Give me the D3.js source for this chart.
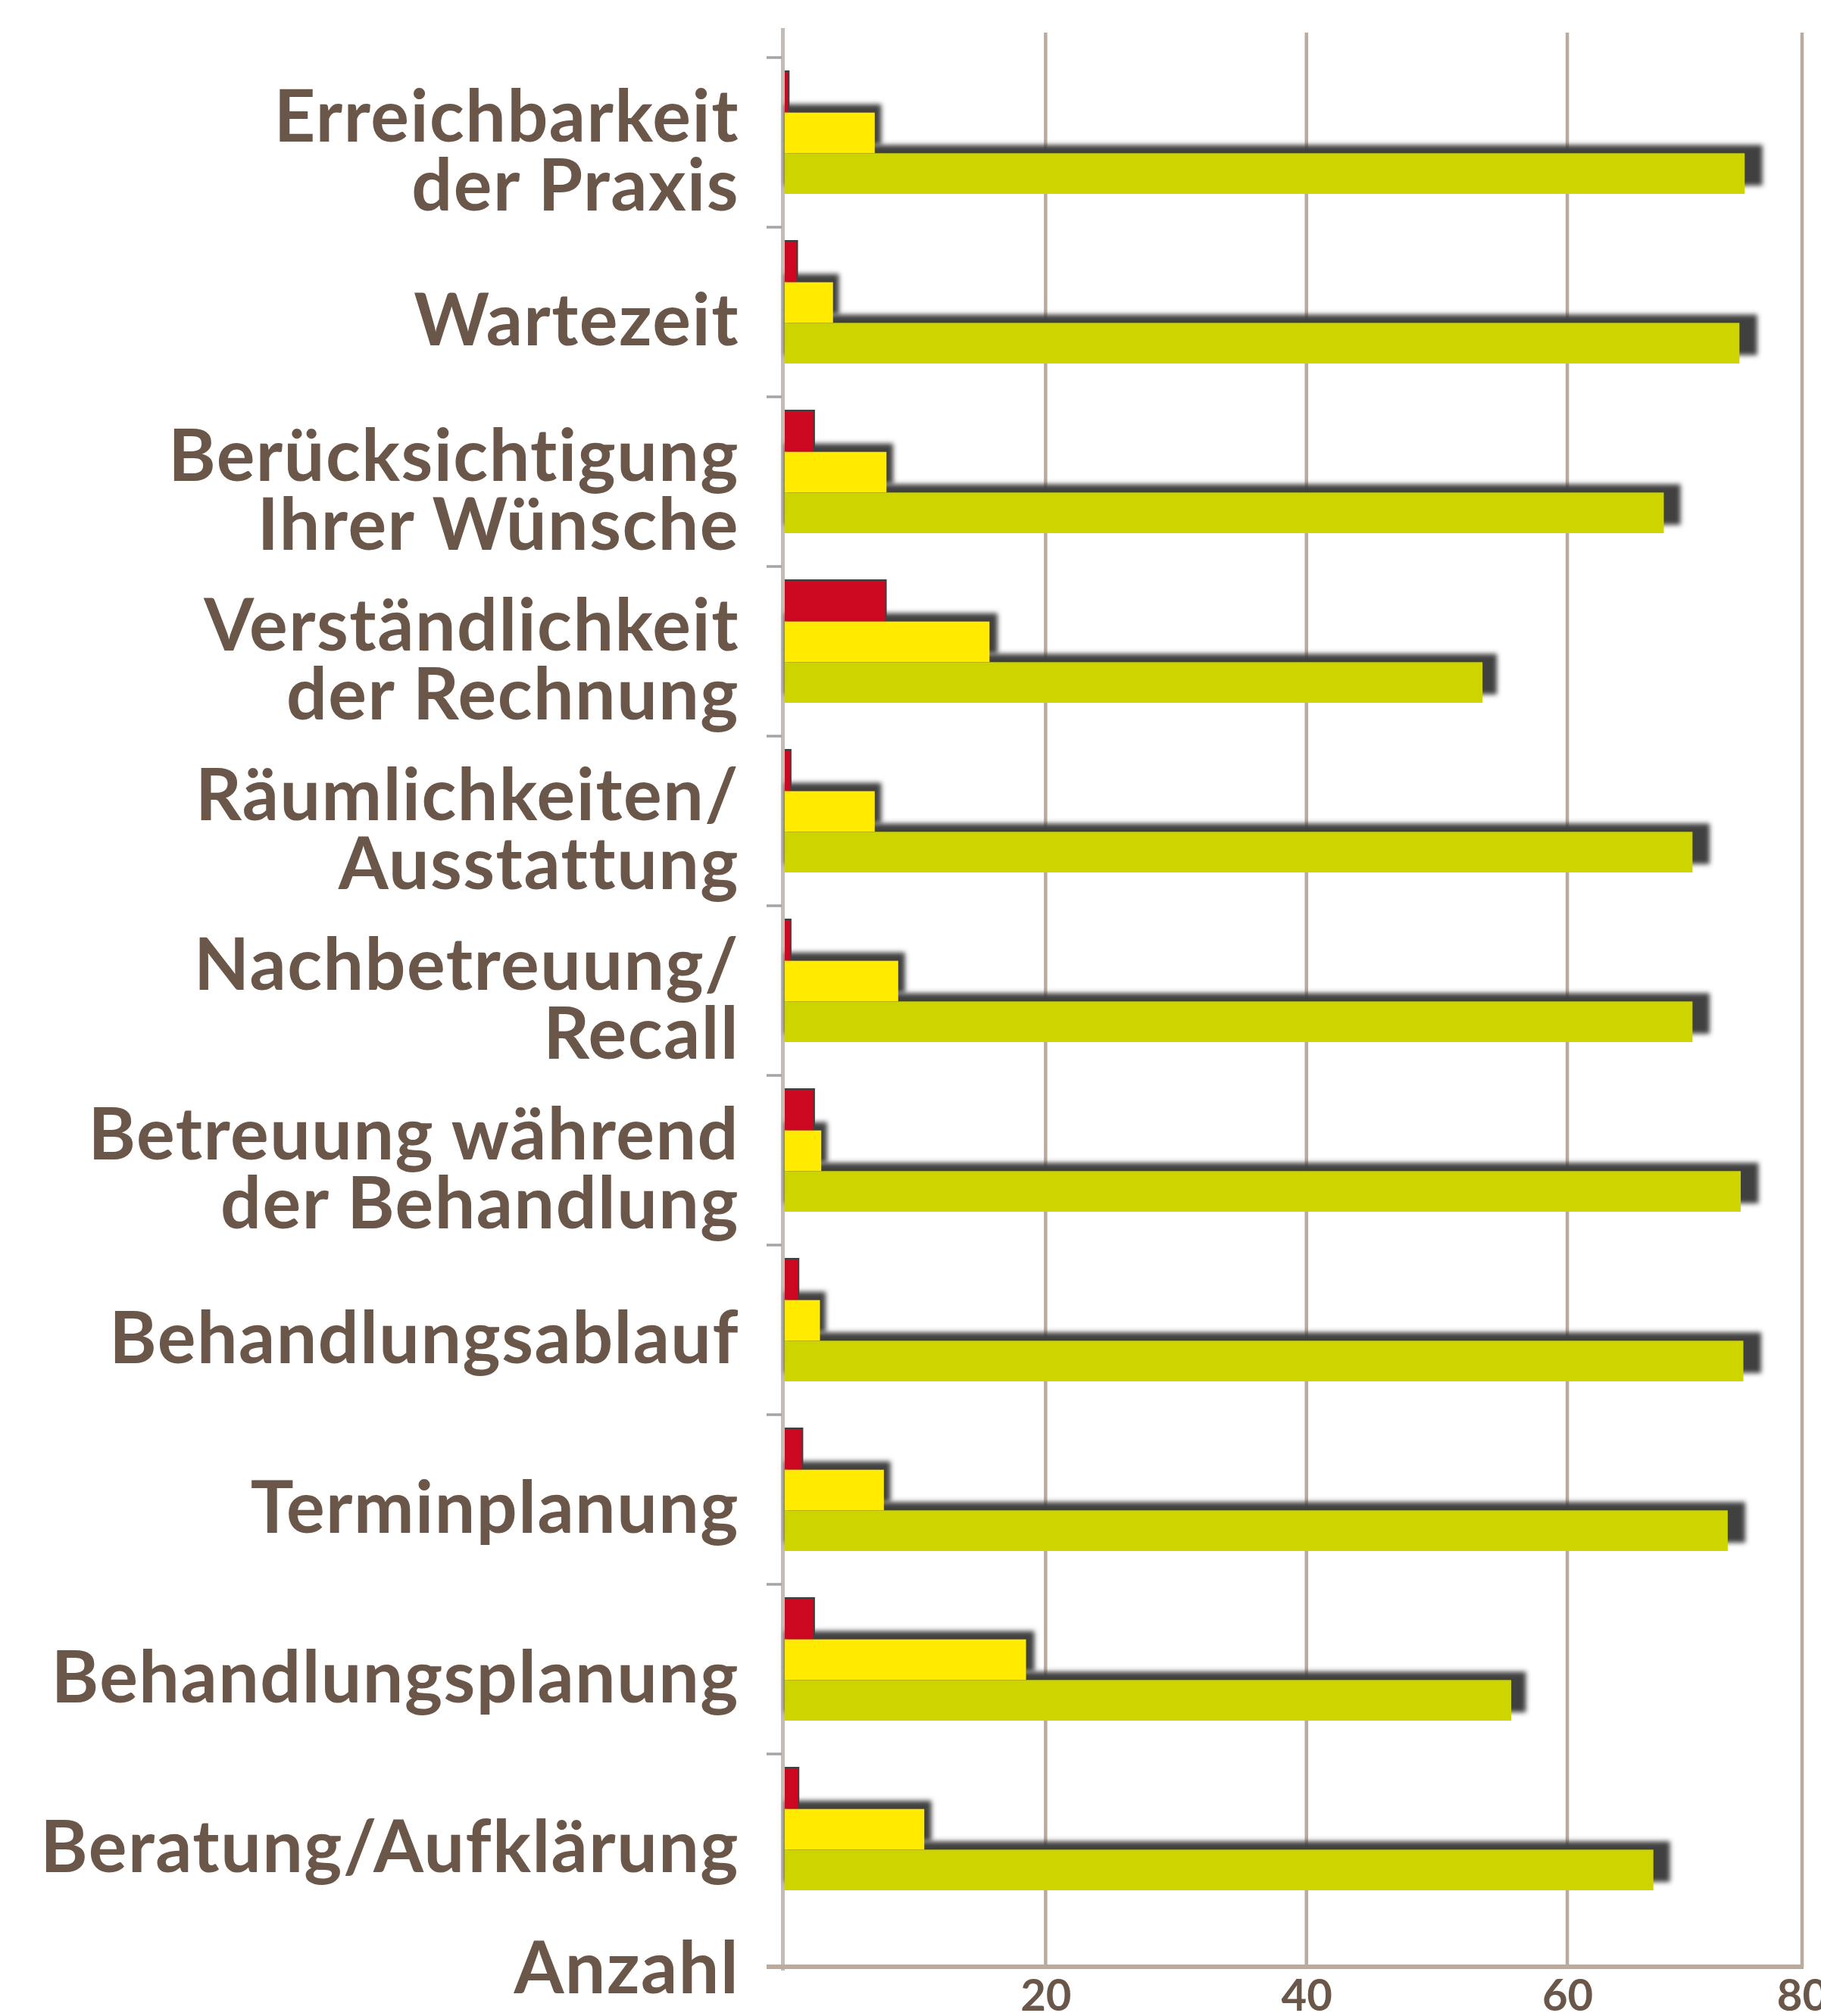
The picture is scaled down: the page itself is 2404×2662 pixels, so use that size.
<!DOCTYPE html>
<html>
<head>
<meta charset="utf-8">
<script src="https://cdn.jsdelivr.net/npm/d3@7"></script>
<style>
  body { margin: 0; background: #fff; }
  .label { font-family: Lato, "Noto Sans", sans-serif; font-weight: bold; fill: #6b5749; }
</style>
</head>
<body>
<svg width="2404" height="2662"></svg>
<script>
// categories, top to bottom ("\n" = line break)
const categories = [
  "Erreichbarkeit\nder Praxis",
  "Wartezeit",
  "Berücksichtigung\nIhrer Wünsche",
  "Verständlichkeit\nder Rechnung",
  "Räumlichkeiten/\nAusstattung",
  "Nachbetreuung/\nRecall",
  "Betreuung während\nder Behandlung",
  "Behandlungsablauf",
  "Terminplanung",
  "Behandlungsplanung",
  "Beratung/Aufklärung"
];

// three series per category (red, yellow, green)
const series = ["rot", "gelb", "gruen"];
const redValues    = [0.25, 0.9, 2.2, 7.7, 0.4, 0.4, 2.2, 1.0, 1.3, 2.2, 1.0];
const yellowValues = [6.9, 3.7, 7.8, 15.7, 6.9, 8.7, 2.8, 2.7, 7.6, 18.5, 10.7];
const greenValues  = [73.6, 73.2, 67.4, 53.5, 69.6, 69.6, 73.3, 73.5, 72.3, 55.7, 66.6];

const tickValues = [20, 40, 60, 80];
const axisTitle = "Anzahl";

var colors = { rot: "#cc0820", gelb: "#ffea00", gruen: "#cdd400" };
var textColor = "#6b5749";
var gridColor = "#b9ab9f";

var draw = function(){
  const svg = d3.select('svg');

  const rows = categories.map((c, i) => ({
    lines: c.split("\n"),
    rot: redValues[i],
    gelb: yellowValues[i],
    gruen: greenValues[i]
  }));

  // scales
  const x = d3.scaleLinear()
    .domain([0, 78])
    .range([1036, 2379])
    .clamp(true);

  const y0 = d3.scaleBand()
    .domain(d3.range(categories.length))
    .range([76, 2540]);

  const y1 = d3.scaleBand()
    .domain(series)
    .range([19, 180]);

  // shadow blur
  svg.append('defs')
    .append('filter')
    .attr('id', 'blur')
    .attr('filterUnits', 'userSpaceOnUse')
    .attr('x', 0).attr('y', 0).attr('width', 2404).attr('height', 2662)
    .append('feGaussianBlur')
    .attr('stdDeviation', 3);

  // grid lines
  svg.append('g')
    .selectAll('line')
    .data(tickValues)
    .enter()
    .append('line')
    .attr('x1', d => x(d))
    .attr('x2', d => x(d))
    .attr('y1', 43)
    .attr('y2', 2597)
    .attr('stroke', gridColor)
    .attr('stroke-width', 4.5);

  // left axis with category ticks
  svg.append('line')
    .attr('x1', x(0) - 2.5)
    .attr('x2', x(0) - 2.5)
    .attr('y1', 37)
    .attr('y2', 2602)
    .attr('stroke', '#c4bcb4')
    .attr('stroke-width', 5);

  svg.append('g')
    .selectAll('line')
    .data(d3.range(categories.length))
    .enter()
    .append('line')
    .attr('x1', x(0) - 24)
    .attr('x2', x(0) - 4)
    .attr('y1', d => y0(d))
    .attr('y2', d => y0(d))
    .attr('stroke', '#a4a4a4')
    .attr('stroke-width', 3.5);

  // bars
  const groups = svg.append('g')
    .selectAll('g')
    .data(rows)
    .enter()
    .append('g')
    .attr('transform', (d, i) => `translate(0, ${y0(i)})`);

  // shadows first so every bar covers the shadow of the bar below
  groups.selectAll('.shadow')
    .data(d => series.map(s => ({ key: s, value: d[s] })))
    .enter()
    .append('rect')
    .attr('class', 'shadow')
    .attr('x', x(0))
    .attr('y', d => y1(d.key) - (d.key == 'rot' ? 2 : 11))
    .attr('width', d => {
      const w = x(d.value) - x(0);
      return d.key == 'rot' ? w + 2 : w * 1.013 + 7;
    })
    .attr('height', y1.bandwidth())
    .attr('fill', '#404040')
    .attr('filter', d => d.key == 'rot' ? null : 'url(#blur)');

  groups.selectAll('.bar')
    .data(d => series.map(s => ({ key: s, value: d[s] })))
    .enter()
    .append('rect')
    .attr('class', 'bar')
    .attr('x', x(0))
    .attr('y', d => y1(d.key))
    .attr('width', d => x(d.value) - x(0))
    .attr('height', y1.bandwidth())
    .attr('fill', d => colors[d.key]);

  // category labels
  const lineHeight = 91;
  groups.append('text')
    .attr('class', 'label')
    .attr('text-anchor', 'end')
    .attr('font-size', 95)
    .attr('letter-spacing', 1.5)
    .selectAll('tspan')
    .data(d => d.lines.map((l, i) => ({ text: l, i: i, n: d.lines.length })))
    .enter()
    .append('tspan')
    .attr('x', 976)
    .attr('y', d => y0.step() / 2 + 44 + (d.i - (d.n - 1) / 2) * lineHeight)
    .text(d => d.text);

  // bottom axis
  svg.append('line')
    .attr('x1', x(0) - 24)
    .attr('x2', x(80) + 2)
    .attr('y1', 2597)
    .attr('y2', 2597)
    .attr('stroke', gridColor)
    .attr('stroke-width', 6);

  const xAxis = svg.append('g')
    .attr('transform', 'translate(0, 2597)')
    .call(d3.axisBottom(x)
      .tickValues(tickValues)
      .tickSize(0)
      .tickPadding(17));

  xAxis.select('.domain').remove();
  xAxis.selectAll('text')
    .attr('class', 'label')
    .attr('font-size', 58)
    .style('fill', textColor);

  svg.append('text')
    .attr('class', 'label')
    .attr('x', 976)
    .attr('y', 2632)
    .attr('text-anchor', 'end')
    .attr('font-size', 95)
    .attr('letter-spacing', 1.5)
    .text(axisTitle);
}

draw();
</script>
</body>
</html>
